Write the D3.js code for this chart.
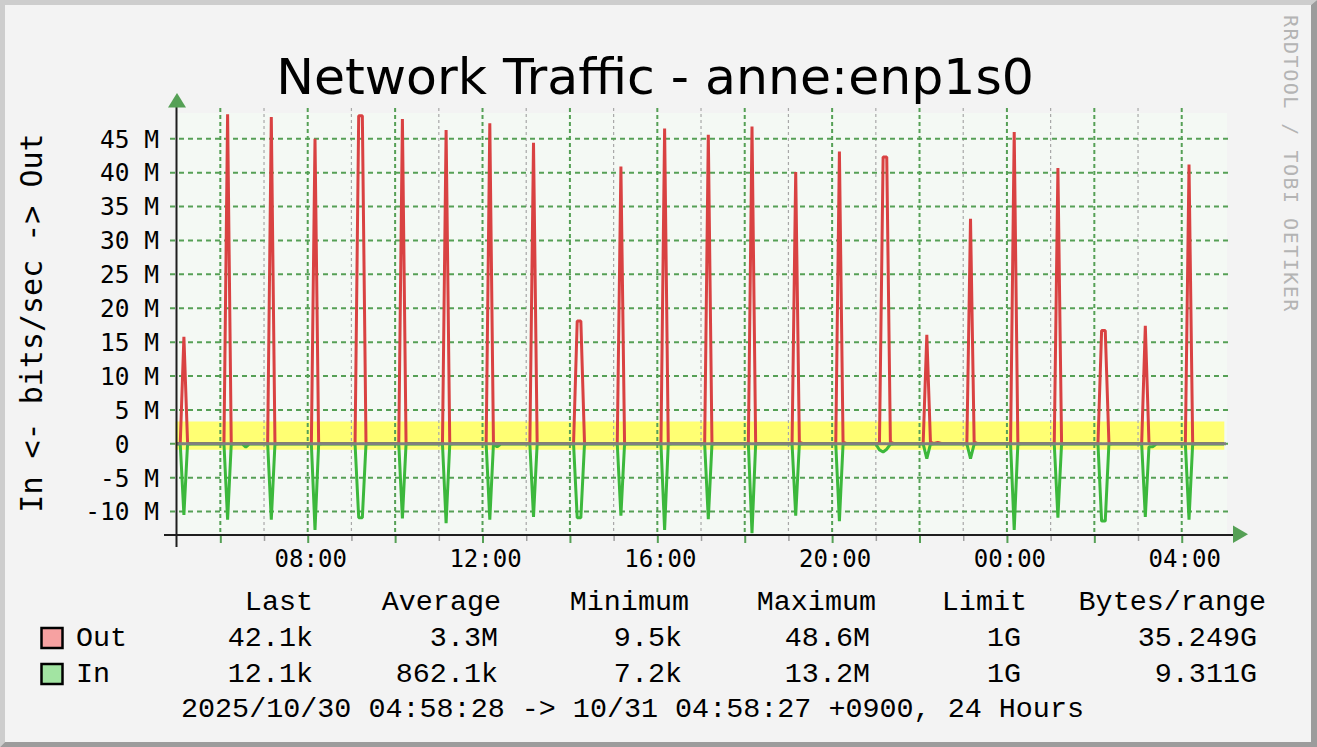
<!DOCTYPE html>
<html>
<head>
<meta charset="utf-8">
<script src="https://cdn.jsdelivr.net/npm/d3@7"></script>
<style>
  body { margin: 0; background: #f3f3f3; }
  svg text { white-space: pre; }
</style>
</head>
<body>
<div id="chart"></div>
<script>
// 5 minute samples around the hourly bursts (Mbit/s)
const sampleTimes = [
  "30 04:59",
  "30 05:05", "30 05:10", "30 05:15", "30 05:20",
  "30 06:05", "30 06:10", "30 06:15", "30 06:20", "30 06:30", "30 06:35", "30 06:40",
  "30 07:05", "30 07:10", "30 07:15", "30 07:20",
  "30 08:05", "30 08:10", "30 08:15", "30 08:20",
  "30 09:05", "30 09:10", "30 09:15", "30 09:20", "30 09:25",
  "30 10:05", "30 10:10", "30 10:15", "30 10:20",
  "30 11:05", "30 11:10", "30 11:15", "30 11:20",
  "30 12:05", "30 12:10", "30 12:15", "30 12:20", "30 12:25",
  "30 13:05", "30 13:10", "30 13:15", "30 13:20",
  "30 14:05", "30 14:10", "30 14:15", "30 14:20", "30 14:25",
  "30 15:05", "30 15:10", "30 15:15", "30 15:20",
  "30 16:05", "30 16:10", "30 16:15", "30 16:20",
  "30 17:05", "30 17:10", "30 17:15", "30 17:20",
  "30 18:05", "30 18:10", "30 18:15", "30 18:20",
  "30 19:05", "30 19:10", "30 19:15", "30 19:20",
  "30 20:05", "30 20:10", "30 20:15", "30 20:20",
  "30 21:00", "30 21:05", "30 21:10", "30 21:15", "30 21:20", "30 21:25",
  "30 22:05", "30 22:10", "30 22:15", "30 22:20", "30 22:25", "30 22:30",
  "30 23:05", "30 23:10", "30 23:15", "30 23:20",
  "31 00:05", "31 00:10", "31 00:15", "31 00:20",
  "31 01:05", "31 01:10", "31 01:15", "31 01:20",
  "31 02:05", "31 02:10", "31 02:15", "31 02:20", "31 02:25",
  "31 03:05", "31 03:10", "31 03:15", "31 03:20", "31 03:25",
  "31 04:05", "31 04:10", "31 04:15", "31 04:20",
  "31 04:58"
];
const outValues = [
  0.04,
  0.04, 15.8, 0.25, 0.04,
  0.04, 48.6, 0.25, 0.04, 0.04, 0.04, 0.04,
  0.04, 48.2, 0.25, 0.04,
  0.04, 45.0, 0.25, 0.04,
  0.04, 48.4, 48.4, 0.25, 0.04,
  0.04, 47.9, 0.25, 0.04,
  0.04, 46.3, 0.25, 0.04,
  0.04, 47.3, 0.25, 0.04, 0.04,
  0.04, 44.4, 0.25, 0.04,
  0.04, 18.1, 18.1, 0.25, 0.04,
  0.04, 40.9, 0.25, 0.04,
  0.04, 46.5, 0.25, 0.04,
  0.04, 45.6, 0.25, 0.04,
  0.04, 46.8, 0.25, 0.04,
  0.04, 40.1, 0.25, 0.04,
  0.04, 43.1, 0.25, 0.04,
  0.04, 0.04, 42.3, 42.3, 0.25, 0.04,
  0.04, 16.1, 0.25, 0.04, 0.2, 0.04,
  0.04, 33.2, 0.25, 0.04,
  0.04, 46.0, 0.25, 0.04,
  0.04, 40.7, 0.25, 0.04,
  0.04, 16.7, 16.7, 0.25, 0.04,
  0.04, 17.4, 0.25, 0.04, 0.04,
  0.04, 41.2, 0.25, 0.04,
  0.042
];
const inValues = [
  0.02,
  0.02, 10.5, 0.05, 0.02,
  0.02, 11.2, 0.05, 0.02, 0.02, 0.5, 0.02,
  0.02, 11.2, 0.05, 0.02,
  0.02, 12.7, 0.05, 0.02,
  0.02, 10.9, 10.9, 0.05, 0.02,
  0.02, 11.0, 0.05, 0.02,
  0.02, 11.7, 0.05, 0.02,
  0.02, 11.2, 0.05, 0.45, 0.02,
  0.02, 10.8, 0.05, 0.02,
  0.02, 10.9, 10.9, 0.05, 0.02,
  0.02, 10.6, 0.05, 0.02,
  0.02, 12.7, 0.05, 0.02,
  0.02, 11.1, 0.05, 0.02,
  0.02, 13.2, 0.05, 0.02,
  0.02, 10.6, 0.05, 0.02,
  0.02, 11.4, 0.05, 0.02,
  0.02, 0.9, 1.2, 0.8, 0.05, 0.02,
  0.02, 2.2, 0.05, 0.02, 0.02, 0.02,
  0.02, 2.2, 0.05, 0.02,
  0.02, 12.7, 0.05, 0.02,
  0.02, 10.9, 0.05, 0.02,
  0.02, 11.4, 11.4, 0.05, 0.02,
  0.02, 10.8, 0.45, 0.45, 0.02,
  0.02, 11.2, 0.05, 0.02,
  0.012
];

const outAverage = 3.3;     // M
const inAverage = 0.8621;   // M

const yTickValues = [-10, -5, 0, 5, 10, 15, 20, 25, 30, 35, 40, 45];
const yTickLabels = ["-10 M", "-5 M", "0  ", "5 M", "10 M", "15 M", "20 M", "25 M", "30 M", "35 M", "40 M", "45 M"];

const statHeaders = ["Last", "Average", "Minimum", "Maximum", "Limit", "Bytes/range"];
const outStats = ["42.1k", "3.3M", "9.5k", "48.6M", "1G", "35.249G"];
const inStats = ["12.1k", "862.1k", "7.2k", "13.2M", "1G", "9.311G"];

const titleText = "Network Traffic - anne:enp1s0";
const yTitle = "In <- bits/sec -> Out";
const footText = "2025/10/30 04:58:28 -> 10/31 04:58:27 +0900, 24 Hours";
const watermark = "RRDTOOL / TOBI OETIKER";

const W = 1317, H = 747;
const mono = "'DejaVu Sans Mono', monospace";
const legendFont = "'Liberation Mono', 'DejaVu Sans Mono', monospace";
const gridGreen = "#55a055";

const parseT = d3.timeParse("%Y-%m-%d %H:%M");
const times = sampleTimes.map(s => parseT("2025-10-" + s));
const tStart = new Date(2025, 9, 30, 4, 58, 28);
const tEnd = new Date(2025, 9, 31, 4, 58, 27);

const svg = d3.select("#chart").append("svg")
  .attr("width", W)
  .attr("height", H);

// background + 3d frame
svg.append("rect").attr("width", W).attr("height", H).attr("fill", "#f3f3f3");
svg.append("polygon").attr("points", "0,0 1317,0 1311,5 5,5 5,742 0,747").attr("fill", "#cdcdcd");
svg.append("polygon").attr("points", "1317,0 1317,747 0,747 5,742 1311,742 1311,5").attr("fill", "#9c9c9c");

const x = d3.scaleTime().domain([tStart, tEnd]).range([175.5, 1224.3]);
const y = d3.scaleLinear().domain([-13.45, 48.8]).range([535, 113]);

// canvas
svg.append("rect")
  .attr("x", 177).attr("y", 113)
  .attr("width", 1050).attr("height", 422)
  .attr("fill", "#f4f9f4");

// average band (yellow)
const band = d3.area()
  .x(d => x(d))
  .y0(y(-inAverage))
  .y1(y(outAverage));
svg.append("path")
  .datum([tStart, tEnd])
  .attr("d", band)
  .attr("fill", "#ffff73");

// grid
const hours = d3.timeHour.range(d3.timeHour.ceil(tStart), tEnd);
const majorHours = hours.filter(d => d.getHours() % 2 === 0);
const minorHours = hours.filter(d => d.getHours() % 2 === 1 && x(d) > 180);

svg.append("g").selectAll("line")
  .data(minorHours)
  .enter().append("line")
  .attr("x1", d => x(d)).attr("x2", d => x(d))
  .attr("y1", 108).attr("y2", 535)
  .attr("stroke", "#a8a8a8")
  .attr("stroke-width", 1.2)
  .attr("stroke-dasharray", "3,3");

svg.append("g").selectAll("line")
  .data(majorHours)
  .enter().append("line")
  .attr("x1", d => x(d)).attr("x2", d => x(d))
  .attr("y1", 108).attr("y2", 535)
  .attr("stroke", gridGreen)
  .attr("stroke-width", 2)
  .attr("stroke-dasharray", "4,3");

svg.append("g").selectAll("line")
  .data(yTickValues)
  .enter().append("line")
  .attr("x1", 170).attr("x2", 1232)
  .attr("y1", d => y(d)).attr("y2", d => y(d))
  .attr("stroke", gridGreen)
  .attr("stroke-width", 2)
  .attr("stroke-dasharray", "5,4");

// traffic lines, In drawn below zero
const outLine = d3.line().x((d, i) => x(times[i])).y(d => y(d));
const inLine = d3.line().x((d, i) => x(times[i])).y(d => y(-d));

svg.append("path")
  .datum(outValues)
  .attr("d", outLine)
  .attr("fill", "none")
  .attr("stroke", "#d94242")
  .attr("stroke-width", 3)
  .attr("stroke-linejoin", "bevel");

svg.append("path")
  .datum(inValues)
  .attr("d", inLine)
  .attr("fill", "none")
  .attr("stroke", "#3cb83c")
  .attr("stroke-width", 3)
  .attr("stroke-linejoin", "bevel");

// zero rule
svg.append("line")
  .attr("x1", 177).attr("x2", 1226)
  .attr("y1", y(0)).attr("y2", y(0))
  .attr("stroke", "#808080")
  .attr("stroke-width", 3);

// axes lines + arrows
svg.append("line")
  .attr("x1", 176.5).attr("x2", 176.5)
  .attr("y1", 100).attr("y2", 547)
  .attr("stroke", "#1e1e1e").attr("stroke-width", 2);
svg.append("line")
  .attr("x1", 164).attr("x2", 1236)
  .attr("y1", 535).attr("y2", 535)
  .attr("stroke", "#1e1e1e").attr("stroke-width", 2);
svg.append("polygon").attr("points", "168,107.5 186,107.5 177,93").attr("fill", gridGreen);
svg.append("polygon").attr("points", "1233,525.5 1233,543 1248,534.3").attr("fill", gridGreen);

// x axis ticks and labels
const fmt = d3.timeFormat("%H:%M");
const xMajor = svg.append("g")
  .attr("transform", "translate(0,536)")
  .call(d3.axisBottom(x)
    .tickValues(majorHours)
    .tickSize(7)
    .tickSizeOuter(0)
    .tickPadding(6.5)
    .tickFormat(d => d.getHours() % 4 === 0 ? fmt(d) : ""));
xMajor.select(".domain").remove();
xMajor.selectAll(".tick line").attr("stroke", gridGreen).attr("stroke-width", 2);
xMajor.selectAll("text")
  .attr("font-family", mono)
  .attr("font-size", "24px")
  .attr("fill", "#000")
  .attr("dx", 2.5);

const xMinor = svg.append("g")
  .attr("transform", "translate(0,536)")
  .call(d3.axisBottom(x)
    .tickValues(minorHours)
    .tickSize(5)
    .tickSizeOuter(0)
    .tickFormat(""));
xMinor.select(".domain").remove();
xMinor.selectAll(".tick line").attr("stroke", "#a0a0a0").attr("stroke-width", 1.5);

// y axis labels
const yAxisG = svg.append("g")
  .attr("transform", "translate(177,0)")
  .call(d3.axisLeft(y)
    .tickValues(yTickValues)
    .tickSize(0)
    .tickPadding(18)
    .tickFormat((d, i) => yTickLabels[i]));
yAxisG.select(".domain").remove();
yAxisG.selectAll("text")
  .attr("font-family", mono)
  .attr("font-size", "24.5px")
  .attr("fill", "#000")
  .attr("dy", "0.34em");

// titles
svg.append("text")
  .attr("x", 655).attr("y", 94)
  .attr("text-anchor", "middle")
  .attr("font-family", "'DejaVu Sans', sans-serif")
  .attr("font-size", "50.5px")
  .attr("fill", "#000")
  .text(titleText);

svg.append("text")
  .attr("transform", "translate(42,323) rotate(-90)")
  .attr("text-anchor", "middle")
  .attr("font-family", mono)
  .attr("font-size", "30px")
  .attr("fill", "#000")
  .text(yTitle);

svg.append("text")
  .attr("transform", "translate(1284,15) rotate(90)")
  .attr("font-family", mono)
  .attr("font-size", "20px")
  .attr("letter-spacing", "1.5px")
  .attr("fill", "#b4b4b4")
  .text(watermark);

// legend
const legend = svg.append("g")
  .attr("font-family", legendFont)
  .attr("font-size", "28.4px")
  .attr("fill", "#000");

const headerEnds = [313, 501, 689, 876, 1027, 1266];
const valueEnds = [313, 498, 682, 870, 1021, 1257];

legend.selectAll(".hdr")
  .data(statHeaders)
  .enter().append("text")
  .attr("class", "hdr")
  .attr("x", (d, i) => headerEnds[i]).attr("y", 610)
  .attr("text-anchor", "end")
  .text(d => d);

const rows = [
  { name: "Out", stats: outStats, fill: "#f6a1a1", y: 646 },
  { name: "In", stats: inStats, fill: "#a2e4a2", y: 682 }
];

rows.forEach(r => {
  legend.append("rect")
    .attr("x", 41.5).attr("y", r.y - 18)
    .attr("width", 21).attr("height", 20)
    .attr("fill", r.fill)
    .attr("stroke", "#000")
    .attr("stroke-width", 2.5);
  legend.append("text")
    .attr("x", 76).attr("y", r.y)
    .text(r.name);
  legend.selectAll(null)
    .data(r.stats)
    .enter().append("text")
    .attr("x", (d, i) => valueEnds[i]).attr("y", r.y)
    .attr("text-anchor", "end")
    .text(d => d);
});

legend.append("text")
  .attr("x", 181).attr("y", 717)
  .text(footText);
</script>
</body>
</html>
